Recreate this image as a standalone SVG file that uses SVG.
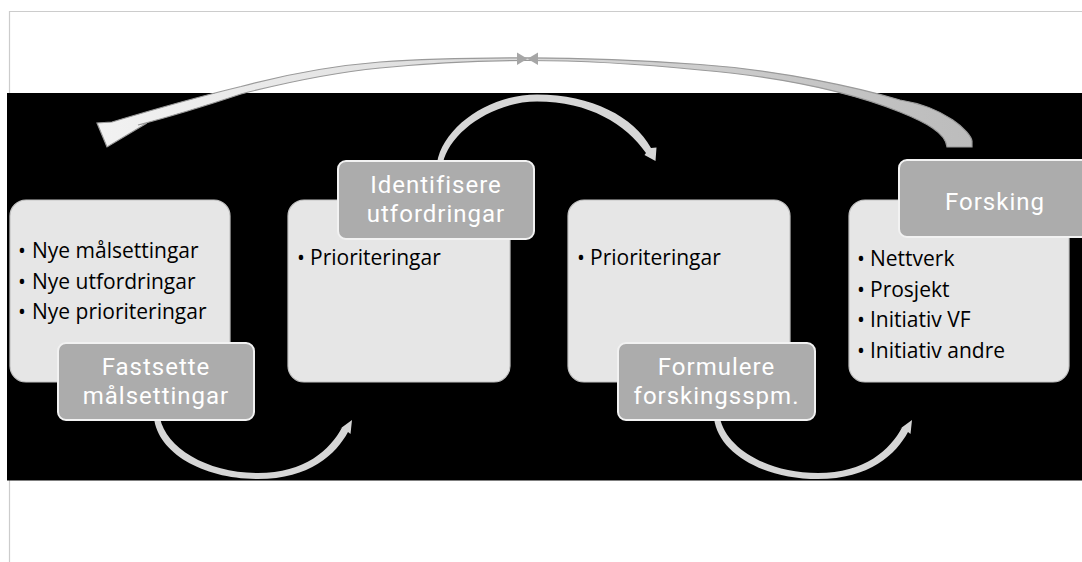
<svg xmlns="http://www.w3.org/2000/svg" width="1082" height="562" viewBox="0 0 1082 562">
<style>
.box{fill:#e6e6e6;stroke:#c4c4c4;stroke-width:1.2}
.lbl{fill:#acacac;stroke:#f2f2f2;stroke-width:2}
.bt{font-family:"Open Sans","Noto Sans",sans-serif;font-size:21px;fill:#000}
.lt{font-family:Roboto,"Open Sans",sans-serif;font-size:24px;letter-spacing:1px;fill:#fff;text-anchor:middle}
.arc{fill:#d6d6d6}
</style>
<defs>
<linearGradient id="big" gradientUnits="userSpaceOnUse" x1="97" y1="0" x2="972" y2="0">
<stop offset="0" stop-color="#f2f2f2"/>
<stop offset="0.45" stop-color="#dcdcdc"/>
<stop offset="0.85" stop-color="#c4c4c4"/>
<stop offset="1" stop-color="#bcbcbc"/>
</linearGradient>
<path id="botArc" d="M154 418 C158 453 203 479 258 479 C310 479 336 454 348 432 L350.5 434 L352 420 L339 429.5 L342 427.5 C330 450 305 473 258 473 C207 473 166 448 160 418 Z"/>
</defs>
<rect x="0" y="0" width="1082" height="562" fill="#fff"/>
<path d="M9 11.5 H1082 M9.5 11 V562" fill="none" stroke="#cccccc" stroke-width="1.2"/>
<rect x="7" y="93" width="1075" height="387.5" fill="#000"/>
<g id="connectors">
<path d="M972 147 L972 141 C971 132 945 107 900 100 C860 88 780 70 700 64.5 C640 60 580 57.8 527 57.8 C470 57.8 420 59 380 62 C330 66 280 76 241 86.5 C210 94 165 106 112 122 L97 123 L107 147 L147 123 L138 125 C165 118 205 106 241 94 C280 84 330 73 380 68 C420 64 470 60.5 527 60.5 C580 60.5 640 64 700 70 C780 77 850 92 900 112 C925 122 946 133 947 147 Z" fill="url(#big)" stroke="#9a9a9a" stroke-width="1.2" stroke-linejoin="miter"/>
<polygon points="517,52.5 527.5,58.8 517,65" fill="#a6a6a6"/>
<polygon points="538,52.5 527.5,58.8 538,65" fill="#a6a6a6"/>
<path class="arc" d="M437 163 C443 127 489 94.5 537 94.5 C592 94.5 634 117 651 148 L656.5 147.5 L655.5 161 L644.5 155 L646 153 C626 124 589 101.5 537 101.5 C492 101.5 449 133 443 163 Z"/>
<use href="#botArc" class="arc"/>
<use href="#botArc" class="arc" transform="translate(560,0)"/>
</g>
<g id="node1">
<rect class="box" x="10" y="200" width="220" height="182" rx="16"/>
<text class="bt"><tspan x="18" y="258">•</tspan><tspan x="32" y="258">Nye målsettingar</tspan><tspan x="18" y="288.5">•</tspan><tspan x="32" y="288.5">Nye utfordringar</tspan><tspan x="18" y="319">•</tspan><tspan x="32" y="319">Nye prioriteringar</tspan></text>
<rect class="lbl" x="58" y="343" width="196" height="77" rx="8"/>
<text class="lt"><tspan x="156" y="375">Fastsette</tspan><tspan x="156" y="403.5">målsettingar</tspan></text>
</g>
<g id="node2">
<rect class="box" x="288" y="200" width="222" height="182" rx="16"/>
<text class="bt" y="265"><tspan x="297">•</tspan><tspan x="310">Prioriteringar</tspan></text>
<rect class="lbl" x="338" y="161" width="196" height="78" rx="8"/>
<text class="lt"><tspan x="436" y="193">Identifisere</tspan><tspan x="436" y="221.5">utfordringar</tspan></text>
</g>
<g id="node3">
<rect class="box" x="568" y="200" width="222" height="182" rx="16"/>
<text class="bt" y="265"><tspan x="577">•</tspan><tspan x="590">Prioriteringar</tspan></text>
<rect class="lbl" x="618" y="343" width="197" height="77" rx="8"/>
<text class="lt"><tspan x="716.5" y="375">Formulere</tspan><tspan x="716.5" y="403.5">forskingsspm.</tspan></text>
</g>
<g id="node4">
<rect class="box" x="849" y="200" width="220" height="182" rx="16"/>
<text class="bt"><tspan x="857" y="266">•</tspan><tspan x="870" y="266">Nettverk</tspan><tspan x="857" y="296.5">•</tspan><tspan x="870" y="296.5">Prosjekt</tspan><tspan x="857" y="327">•</tspan><tspan x="870" y="327">Initiativ VF</tspan><tspan x="857" y="357.5">•</tspan><tspan x="870" y="357.5">Initiativ andre</tspan></text>
<rect class="lbl" x="899" y="160" width="196" height="77" rx="8"/>
<text class="lt" x="995" y="210">Forsking</text>
</g>
</svg>
